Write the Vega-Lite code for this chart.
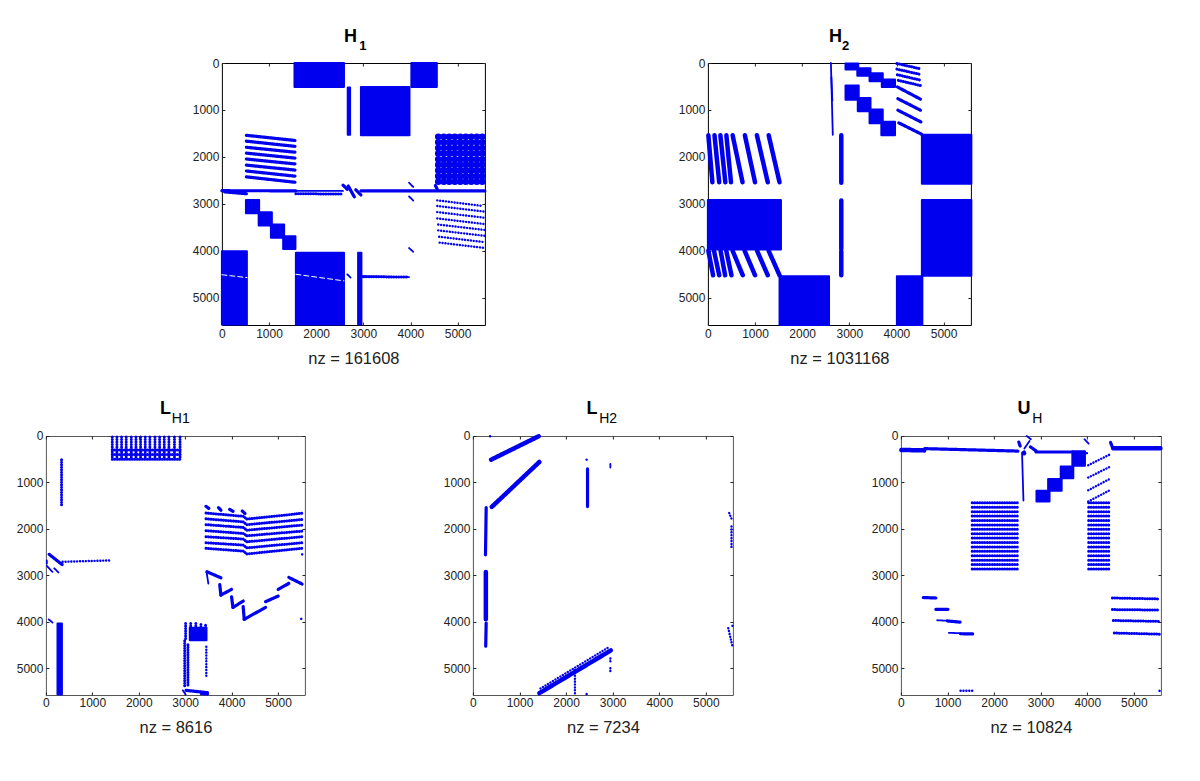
{
"$schema":"https://vega.github.io/schema/vega-lite/v6.json",
"padding":{"left":14.9,"top":27,"right":5,"bottom":5},
"background":"white",
"bounds":"flush",
"spacing":373,
"config":{
 "font":"Liberation Sans",
 "view":{"stroke":"black","strokeWidth":1},
 "axis":{"grid":false,"domain":false,"tickColor":"#222","tickSize":-3,"format":"d","labelFlush":false,"labelFont":"Liberation Sans","labelFontSize":12,"labelColor":"#222","titleFont":"Liberation Sans","titleFontSize":16.5,"titleFontWeight":"normal","titleColor":"#222","labelPadding":6,"titlePadding":11,"values":[0,1000,2000,3000,4000,5000]},
 "title":{"font":"Liberation Sans","fontSize":18,"fontWeight":"bold","color":"black","anchor":"middle","offset":-6}
},
"datasets":{
"h1":[
{"k":"block","x":1540,"x2":2590,"y":0,"y2":510},{"k":"block","x":4020,"x2":4560,"y":0,"y2":510},{"k":"block","x":2950,"x2":3980,"y":510,"y2":1540},{"k":"block","x":2670,"x2":2720,"y":520,"y2":1530},
{"k":"block","x":510,"x2":790,"y":2920,"y2":3200},{"k":"block","x":780,"x2":1060,"y":3180,"y2":3460},{"k":"block","x":1040,"x2":1320,"y":3440,"y2":3720},{"k":"block","x":1300,"x2":1560,"y":3690,"y2":3960},
{"k":"block","x":0,"x2":530,"y":4010,"y2":5570},{"k":"block","x":1570,"x2":2590,"y":4040,"y2":5570},{"k":"block","x":2890,"x2":2960,"y":4040,"y2":5570},
{"k":"gap","x":0,"x2":530,"y":4510,"y2":4570},{"k":"gap","x":1570,"x2":2590,"y":4500,"y2":4640},
{"k":"stipple","x":4590,"x2":5570,"y":1570,"y2":1570},{"k":"stipple","x":4590,"x2":5570,"y":1690,"y2":1690},{"k":"stipple","x":4590,"x2":5570,"y":1810,"y2":1810},{"k":"stipple","x":4590,"x2":5570,"y":1930,"y2":1930},{"k":"stipple","x":4590,"x2":5570,"y":2050,"y2":2050},{"k":"stipple","x":4590,"x2":5570,"y":2170,"y2":2170},{"k":"stipple","x":4590,"x2":5570,"y":2290,"y2":2290},{"k":"stipple","x":4590,"x2":5570,"y":2410,"y2":2410},{"k":"stipple","x":4590,"x2":5570,"y":2530,"y2":2530},
{"k":"line","x":520,"x2":1550,"y":1540,"y2":1650},{"k":"line","x":520,"x2":1550,"y":1665,"y2":1775},{"k":"line","x":520,"x2":1550,"y":1795,"y2":1900},{"k":"line","x":520,"x2":1550,"y":1920,"y2":2025},{"k":"line","x":520,"x2":1550,"y":2045,"y2":2150},{"k":"line","x":520,"x2":1550,"y":2175,"y2":2280},{"k":"line","x":520,"x2":1550,"y":2300,"y2":2410},{"k":"line","x":520,"x2":1550,"y":2425,"y2":2540},
{"k":"line","x":0,"x2":1570,"y":2720,"y2":2722},{"k":"thin","x":1570,"x2":2570,"y":2722,"y2":2724},{"k":"line","x":2950,"x2":5580,"y":2722,"y2":2725},{"k":"line","x":60,"x2":520,"y":2745,"y2":2785},{"k":"beads","x":1570,"x2":2560,"y":2785,"y2":2790},
{"k":"line","x":2570,"x2":2660,"y":2600,"y2":2690},{"k":"line","x":2680,"x2":2810,"y":2620,"y2":2850},{"k":"line","x":2840,"x2":2950,"y":2700,"y2":2810},{"k":"thin","x":3970,"x2":4060,"y":2550,"y2":2640},{"k":"thin","x":3970,"x2":4060,"y":2840,"y2":2930},{"k":"thin","x":3970,"x2":4060,"y":3940,"y2":4020},{"k":"line","x":4530,"x2":4570,"y":2610,"y2":2690},
{"k":"thin","x":2950,"x2":3970,"y":4540,"y2":4560},{"k":"beads","x":2960,"x2":3960,"y":4550,"y2":4560},{"k":"thin","x":2660,"x2":2730,"y":4500,"y2":4570},
{"k":"fine","x":4570,"x2":5540,"y":2925,"y2":3045},{"k":"fine","x":4570,"x2":5570,"y":3045,"y2":3165},{"k":"fine","x":4570,"x2":5570,"y":3175,"y2":3295},{"k":"fine","x":4570,"x2":5570,"y":3310,"y2":3430},{"k":"fine","x":4590,"x2":5570,"y":3440,"y2":3555},{"k":"fine","x":4590,"x2":5570,"y":3565,"y2":3680},{"k":"fine","x":4610,"x2":5570,"y":3700,"y2":3815},{"k":"fine","x":4620,"x2":5580,"y":3825,"y2":3940}
],
"h2":[
{"k":"block","x":2920,"x2":3190,"y":10,"y2":140},{"k":"block","x":3170,"x2":3450,"y":110,"y2":270},{"k":"block","x":3430,"x2":3710,"y":220,"y2":390},{"k":"block","x":3690,"x2":3970,"y":350,"y2":510},
{"k":"block","x":2920,"x2":3200,"y":480,"y2":780},{"k":"block","x":3180,"x2":3450,"y":745,"y2":1030},{"k":"block","x":3430,"x2":3710,"y":990,"y2":1285},{"k":"block","x":3680,"x2":3970,"y":1250,"y2":1540},
{"k":"block","x":4540,"x2":5590,"y":1530,"y2":2570},{"k":"block","x":4540,"x2":5590,"y":2920,"y2":4530},{"k":"block","x":0,"x2":1550,"y":2920,"y2":3970},{"k":"block","x":1520,"x2":2570,"y":4540,"y2":5580},{"k":"block","x":4010,"x2":4550,"y":4540,"y2":5580},
{"k":"band","x":2830,"x2":2830,"y":1540,"y2":2550},{"k":"band","x":2830,"x2":2830,"y":2930,"y2":3960},{"k":"band","x":2830,"x2":2830,"y":4010,"y2":4520},
{"k":"thin","x":2610,"x2":2650,"y":0,"y2":1530},{"k":"thin","x":2620,"x2":2640,"y":300,"y2":800},
{"k":"beads","x":4010,"x2":4490,"y":10,"y2":120},{"k":"beads","x":4010,"x2":4490,"y":130,"y2":240},{"k":"beads","x":4020,"x2":4490,"y":250,"y2":360},{"k":"beads","x":4040,"x2":4510,"y":370,"y2":480},
{"k":"line","x":4020,"x2":4510,"y":510,"y2":770},{"k":"line","x":4030,"x2":4510,"y":760,"y2":1005},{"k":"line","x":4030,"x2":4520,"y":1005,"y2":1255},{"k":"line","x":4050,"x2":4540,"y":1275,"y2":1520},
{"k":"band","x":10,"x2":95,"y":1540,"y2":2540},{"k":"band","x":140,"x2":240,"y":1540,"y2":2540},{"k":"band","x":265,"x2":370,"y":1540,"y2":2540},{"k":"band","x":392,"x2":490,"y":1540,"y2":2540},{"k":"band","x":525,"x2":735,"y":1540,"y2":2540},{"k":"band","x":785,"x2":1000,"y":1540,"y2":2540},{"k":"band","x":1040,"x2":1270,"y":1540,"y2":2540},{"k":"band","x":1290,"x2":1520,"y":1540,"y2":2540},
{"k":"band","x":10,"x2":110,"y":4000,"y2":4520},{"k":"band","x":130,"x2":240,"y":4000,"y2":4520},{"k":"band","x":270,"x2":365,"y":4000,"y2":4520},{"k":"band","x":390,"x2":500,"y":4000,"y2":4520},{"k":"band","x":525,"x2":740,"y":4000,"y2":4520},{"k":"band","x":780,"x2":1000,"y":4000,"y2":4520},{"k":"band","x":1045,"x2":1270,"y":4000,"y2":4520},{"k":"band","x":1290,"x2":1520,"y":4000,"y2":4520}
],
"l1":[
{"k":"beads","x":1430,"x2":1430,"y":20,"y2":500},{"k":"beads","x":1530,"x2":1530,"y":20,"y2":500},{"k":"beads","x":1630,"x2":1630,"y":20,"y2":500},{"k":"beads","x":1730,"x2":1730,"y":20,"y2":500},{"k":"beads","x":1840,"x2":1840,"y":20,"y2":500},{"k":"beads","x":1940,"x2":1940,"y":20,"y2":500},{"k":"beads","x":2040,"x2":2040,"y":20,"y2":500},{"k":"beads","x":2140,"x2":2140,"y":20,"y2":500},{"k":"beads","x":2240,"x2":2240,"y":20,"y2":500},{"k":"beads","x":2350,"x2":2350,"y":20,"y2":500},{"k":"beads","x":2450,"x2":2450,"y":20,"y2":500},{"k":"beads","x":2550,"x2":2550,"y":20,"y2":500},{"k":"beads","x":2650,"x2":2650,"y":20,"y2":500},{"k":"beads","x":2770,"x2":2770,"y":20,"y2":500},{"k":"beads","x":2890,"x2":2890,"y":20,"y2":500},
{"k":"beads","x":1430,"x2":2890,"y":300,"y2":300},{"k":"beads","x":1430,"x2":2890,"y":400,"y2":400},{"k":"beads","x":1430,"x2":2890,"y":500,"y2":500},
{"k":"beads","x":337,"x2":337,"y":510,"y2":1530},
{"k":"beads","x":3450,"x2":4250,"y":1660,"y2":1730},{"k":"beads","x":4250,"x2":4330,"y":1730,"y2":1790},{"k":"beads","x":4330,"x2":5520,"y":1790,"y2":1665},
{"k":"beads","x":3450,"x2":4250,"y":1785,"y2":1850},{"k":"beads","x":4250,"x2":4330,"y":1850,"y2":1910},{"k":"beads","x":4330,"x2":5520,"y":1910,"y2":1800},
{"k":"beads","x":3450,"x2":4250,"y":1910,"y2":1970},{"k":"beads","x":4250,"x2":4330,"y":1970,"y2":2030},{"k":"beads","x":4330,"x2":5520,"y":2030,"y2":1920},
{"k":"beads","x":3450,"x2":4250,"y":2040,"y2":2100},{"k":"beads","x":4250,"x2":4330,"y":2100,"y2":2150},{"k":"beads","x":4330,"x2":5520,"y":2150,"y2":2050},
{"k":"beads","x":3450,"x2":4250,"y":2170,"y2":2220},{"k":"beads","x":4250,"x2":4330,"y":2220,"y2":2280},{"k":"beads","x":4330,"x2":5520,"y":2280,"y2":2170},
{"k":"beads","x":3450,"x2":4250,"y":2300,"y2":2350},{"k":"beads","x":4250,"x2":4330,"y":2350,"y2":2410},{"k":"beads","x":4330,"x2":5520,"y":2410,"y2":2300},
{"k":"beads","x":3450,"x2":4250,"y":2420,"y2":2480},{"k":"beads","x":4250,"x2":4330,"y":2480,"y2":2540},{"k":"beads","x":4330,"x2":5520,"y":2540,"y2":2420},
{"k":"line","x":3450,"x2":3510,"y":1515,"y2":1560},{"k":"line","x":3720,"x2":3770,"y":1545,"y2":1600},{"k":"line","x":3960,"x2":4030,"y":1580,"y2":1625},{"k":"line","x":4230,"x2":4290,"y":1615,"y2":1670},
{"k":"fine","x":5520,"x2":5530,"y":2550,"y2":2560},
{"k":"fine","x":360,"x2":1400,"y":2710,"y2":2680},
{"k":"line","x":70,"x2":350,"y":2550,"y2":2770},{"k":"thin","x":20,"x2":20,"y":2680,"y2":2750},{"k":"thin","x":20,"x2":140,"y":2800,"y2":2925},{"k":"thin","x":180,"x2":270,"y":2850,"y2":2940},
{"k":"line","x":3470,"x2":3770,"y":2925,"y2":3055},{"k":"thin","x":3460,"x2":3500,"y":2925,"y2":3180},{"k":"line","x":3745,"x2":3770,"y":3200,"y2":3427},{"k":"line","x":3770,"x2":4000,"y":3427,"y2":3305},{"k":"line","x":4000,"x2":4030,"y":3463,"y2":3693},{"k":"line","x":4030,"x2":4252,"y":3693,"y2":3556},{"k":"line","x":4250,"x2":4273,"y":3678,"y2":3950},{"k":"line","x":4273,"x2":4732,"y":3950,"y2":3693},{"k":"line","x":4732,"x2":5005,"y":3570,"y2":3449},{"k":"line","x":5005,"x2":5234,"y":3305,"y2":3176},{"k":"line","x":5234,"x2":5520,"y":3047,"y2":3190},
{"k":"fine","x":5500,"x2":5520,"y":3940,"y2":3960},{"k":"thin","x":60,"x2":143,"y":3950,"y2":4020},
{"k":"block","x":250,"x2":345,"y":4040,"y2":5570},
{"k":"beads","x":3010,"x2":3010,"y":4040,"y2":4400},{"k":"beads","x":3120,"x2":3120,"y":4040,"y2":4400},{"k":"beads","x":3230,"x2":3230,"y":4040,"y2":4400},{"k":"beads","x":3340,"x2":3340,"y":4060,"y2":4400},{"k":"beads","x":3440,"x2":3440,"y":4080,"y2":4400},{"k":"block","x":3100,"x2":3460,"y":4130,"y2":4400},
{"k":"beads","x":2990,"x2":2990,"y":4410,"y2":5400},{"k":"beads","x":3060,"x2":3060,"y":4500,"y2":5400},{"k":"fine","x":3456,"x2":3456,"y":4540,"y2":5220},
{"k":"line","x":3020,"x2":3480,"y":5480,"y2":5530},{"k":"thin","x":2950,"x2":3010,"y":5480,"y2":5570},{"k":"line","x":3350,"x2":3480,"y":5550,"y2":5560}
],
"l2":[
{"k":"fine","x":370,"x2":380,"y":5,"y2":30},
{"k":"band","x":392,"x2":1412,"y":510,"y2":5},{"k":"band","x":406,"x2":1426,"y":1527,"y2":560},
{"k":"line","x":285,"x2":270,"y":1540,"y2":2560},{"k":"band","x":278,"x2":278,"y":2930,"y2":3950},{"k":"line","x":285,"x2":275,"y":4030,"y2":4530},
{"k":"line","x":2460,"x2":2460,"y":710,"y2":1520},{"k":"fine","x":2440,"x2":2445,"y":510,"y2":515},{"k":"thin","x":2950,"x2":2950,"y":600,"y2":680},
{"k":"fine","x":5500,"x2":5560,"y":1660,"y2":1800},{"k":"fine","x":5550,"x2":5550,"y":1950,"y2":2420},{"k":"fine","x":5480,"x2":5570,"y":4140,"y2":4530},{"k":"fine","x":5570,"x2":5575,"y":4090,"y2":4095},
{"k":"band","x":1426,"x2":2960,"y":5540,"y2":4620},{"k":"fine","x":1450,"x2":2900,"y":5440,"y2":4560},
{"k":"fine","x":2190,"x2":2190,"y":5040,"y2":5570},{"k":"fine","x":2950,"x2":2950,"y":4790,"y2":4860},{"k":"fine","x":2950,"x2":2950,"y":5000,"y2":5080},{"k":"fine","x":2440,"x2":2450,"y":5560,"y2":5565}
],
"u":[
{"k":"block","x":3680,"x2":3950,"y":330,"y2":640},{"k":"block","x":3430,"x2":3700,"y":655,"y2":910},{"k":"block","x":3160,"x2":3450,"y":925,"y2":1180},{"k":"block","x":2910,"x2":3190,"y":1180,"y2":1410},
{"k":"band","x":10,"x2":500,"y":300,"y2":310},{"k":"line","x":510,"x2":2510,"y":272,"y2":325},
{"k":"thin","x":2630,"x2":2600,"y":1390,"y2":360},{"k":"band","x":2640,"x2":2645,"y":360,"y2":370},
{"k":"line","x":2530,"x2":2560,"y":130,"y2":215},{"k":"thin","x":2650,"x2":2760,"y":270,"y2":110},{"k":"thin","x":2700,"x2":2790,"y":0,"y2":70},
{"k":"line","x":2780,"x2":2900,"y":235,"y2":320},{"k":"line","x":2900,"x2":3690,"y":345,"y2":345},
{"k":"thin","x":3940,"x2":4030,"y":70,"y2":165},{"k":"fine","x":3990,"x2":4050,"y":370,"y2":360},
{"k":"fine","x":4020,"x2":4510,"y":630,"y2":385},{"k":"fine","x":4020,"x2":4510,"y":896,"y2":650},{"k":"fine","x":4020,"x2":4490,"y":1170,"y2":920},{"k":"fine","x":4020,"x2":4480,"y":1412,"y2":1170},
{"k":"line","x":4500,"x2":4550,"y":140,"y2":270},{"k":"band","x":4560,"x2":5570,"y":265,"y2":265},
{"k":"beads","x":1530,"x2":2540,"y":1440,"y2":1440},{"k":"beads","x":1530,"x2":2540,"y":1535,"y2":1535},{"k":"beads","x":1530,"x2":2540,"y":1630,"y2":1630},{"k":"beads","x":1530,"x2":2540,"y":1725,"y2":1725},{"k":"beads","x":1530,"x2":2540,"y":1820,"y2":1820},{"k":"beads","x":1530,"x2":2540,"y":1915,"y2":1915},{"k":"beads","x":1530,"x2":2540,"y":2010,"y2":2010},{"k":"beads","x":1530,"x2":2540,"y":2105,"y2":2105},{"k":"beads","x":1530,"x2":2540,"y":2200,"y2":2200},{"k":"beads","x":1530,"x2":2540,"y":2295,"y2":2295},{"k":"beads","x":1530,"x2":2540,"y":2390,"y2":2390},{"k":"beads","x":1530,"x2":2540,"y":2485,"y2":2485},{"k":"beads","x":1530,"x2":2540,"y":2580,"y2":2580},{"k":"beads","x":1530,"x2":2540,"y":2675,"y2":2675},{"k":"beads","x":1530,"x2":2540,"y":2770,"y2":2770},{"k":"beads","x":1530,"x2":2540,"y":2865,"y2":2865},
{"k":"beads","x":4030,"x2":4510,"y":1440,"y2":1440},{"k":"beads","x":4030,"x2":4510,"y":1535,"y2":1535},{"k":"beads","x":4030,"x2":4510,"y":1630,"y2":1630},{"k":"beads","x":4030,"x2":4510,"y":1725,"y2":1725},{"k":"beads","x":4030,"x2":4510,"y":1820,"y2":1820},{"k":"beads","x":4030,"x2":4510,"y":1915,"y2":1915},{"k":"beads","x":4030,"x2":4510,"y":2010,"y2":2010},{"k":"beads","x":4030,"x2":4510,"y":2105,"y2":2105},{"k":"beads","x":4030,"x2":4510,"y":2200,"y2":2200},{"k":"beads","x":4030,"x2":4510,"y":2295,"y2":2295},{"k":"beads","x":4030,"x2":4510,"y":2390,"y2":2390},{"k":"beads","x":4030,"x2":4510,"y":2485,"y2":2485},{"k":"beads","x":4030,"x2":4510,"y":2580,"y2":2580},{"k":"beads","x":4030,"x2":4510,"y":2675,"y2":2675},{"k":"beads","x":4030,"x2":4510,"y":2770,"y2":2770},{"k":"beads","x":4030,"x2":4510,"y":2865,"y2":2865},
{"k":"line","x":480,"x2":750,"y":3480,"y2":3490},{"k":"line","x":750,"x2":1010,"y":3735,"y2":3735},{"k":"thin","x":780,"x2":1000,"y":3970,"y2":3980},{"k":"line","x":1000,"x2":1270,"y":3985,"y2":4010},{"k":"thin","x":1030,"x2":1280,"y":4240,"y2":4250},{"k":"line","x":1280,"x2":1540,"y":4260,"y2":4265},
{"k":"fine","x":1280,"x2":1540,"y":5490,"y2":5490},{"k":"fine","x":5550,"x2":5560,"y":5490,"y2":5495},
{"k":"beads","x":4540,"x2":5530,"y":3490,"y2":3510},{"k":"beads","x":4540,"x2":5550,"y":3740,"y2":3750},{"k":"beads","x":4560,"x2":5570,"y":3975,"y2":3995},{"k":"beads","x":4580,"x2":5570,"y":4245,"y2":4270}
]
},
"vconcat":[
{"bounds":"flush","spacing":10,"hconcat":[
 {"width":166,"height":10,"view":{"stroke":null},"data":{"values":[{}]},"mark":{"type":"rule","opacity":0},"encoding":{}},
 {"bounds":"flush","spacing":223,"hconcat":[
  {"width":263,"height":262,"title":{"text":"H","dx":-3},"data":{"name":"h1"},"resolve":{"axis":{"x":"independent","y":"independent"}},"layer":[
   {"transform":[{"filter":"datum.k==='block'"}],"mark":{"type":"rect","color":"#0000ee","stroke":"#0000ee","strokeWidth":2,"strokeJoin":"round"},"encoding":{"x":{"field":"x","type":"quantitative","scale":{"domain":[0,5580],"nice":false},"axis":{"title":"nz = 161608"}},"x2":{"field":"x2"},"y":{"field":"y","type":"quantitative","scale":{"domain":[0,5580],"reverse":true,"nice":false},"axis":{"title":null}},"y2":{"field":"y2"}}},
   {"transform":[{"filter":"datum.k!=='block'"}],"mark":{"type":"rule","strokeCap":"round"},"encoding":{"x":{"field":"x","type":"quantitative","axis":{"orient":"top","labels":false,"title":null}},"x2":{"field":"x2"},"y":{"field":"y","type":"quantitative","axis":{"orient":"right","labels":false,"title":null}},"y2":{"field":"y2"},"color":{"field":"k","scale":{"domain":["band","line","thin","beads","fine","stipple","gap"],"range":["#0000ee","#0000ee","#0000ee","#0000ee","#0000ee","#0000ee","#ffffff"]},"legend":null},"strokeWidth":{"field":"k","type":"ordinal","scale":{"type":"ordinal","domain":["band","line","thin","beads","fine","stipple","gap"],"range":[4.5,3.2,1.8,3,2.4,6.6,1]},"legend":null},"strokeDash":{"field":"k","scale":{"domain":["band","line","thin","beads","fine","stipple","gap"],"range":[[1,0],[1,0],[1,0],[0.1,2.4],[0.1,2.8],[0.1,5.4],[5,3]]},"legend":null}}},
   {"data":{"values":[{}]},"mark":{"type":"text","text":"1","align":"left","baseline":"alphabetic","fontSize":13,"font":"Liberation Sans","fontWeight":"bold","color":"black"},"encoding":{"x":{"datum":2913,"type":"quantitative","axis":null},"y":{"datum":-277,"type":"quantitative","axis":null}}}
  ]},
  {"width":263,"height":262,"title":{"text":"H","dx":-4},"data":{"name":"h2"},"resolve":{"axis":{"x":"independent","y":"independent"}},"layer":[
   {"transform":[{"filter":"datum.k==='block'"}],"mark":{"type":"rect","color":"#0000ee","stroke":"#0000ee","strokeWidth":2,"strokeJoin":"round"},"encoding":{"x":{"field":"x","type":"quantitative","scale":{"domain":[0,5580],"nice":false},"axis":{"title":"nz = 1031168"}},"x2":{"field":"x2"},"y":{"field":"y","type":"quantitative","scale":{"domain":[0,5580],"reverse":true,"nice":false},"axis":{"title":null}},"y2":{"field":"y2"}}},
   {"transform":[{"filter":"datum.k!=='block'"}],"mark":{"type":"rule","strokeCap":"round"},"encoding":{"x":{"field":"x","type":"quantitative","axis":{"orient":"top","labels":false,"title":null}},"x2":{"field":"x2"},"y":{"field":"y","type":"quantitative","axis":{"orient":"right","labels":false,"title":null}},"y2":{"field":"y2"},"color":{"field":"k","scale":{"domain":["band","line","thin","beads","fine","stipple","gap"],"range":["#0000ee","#0000ee","#0000ee","#0000ee","#0000ee","#0000ee","#ffffff"]},"legend":null},"strokeWidth":{"field":"k","type":"ordinal","scale":{"type":"ordinal","domain":["band","line","thin","beads","fine","stipple","gap"],"range":[4.5,3.2,1.8,3,2.4,6.6,1]},"legend":null},"strokeDash":{"field":"k","scale":{"domain":["band","line","thin","beads","fine","stipple","gap"],"range":[[1,0],[1,0],[1,0],[0.1,2.4],[0.1,2.8],[0.1,5.4],[5,3]]},"legend":null}}},
   {"data":{"values":[{}]},"mark":{"type":"text","text":"2","align":"left","baseline":"alphabetic","fontSize":13,"font":"Liberation Sans","fontWeight":"bold","color":"black"},"encoding":{"x":{"datum":2843,"type":"quantitative","axis":null},"y":{"datum":-277,"type":"quantitative","axis":null}}}
  ]}
 ]}
]},
{"bounds":"flush","spacing":168,"hconcat":[
  {"width":259,"height":259,"view":{"stroke":"#555"},"title":{"text":"L","dx":-10},"data":{"name":"l1"},"resolve":{"axis":{"x":"independent","y":"independent"}},"layer":[
   {"transform":[{"filter":"datum.k==='block'"}],"mark":{"type":"rect","color":"#0000ee","stroke":"#0000ee","strokeWidth":2,"strokeJoin":"round"},"encoding":{"x":{"field":"x","type":"quantitative","scale":{"domain":[0,5580],"nice":false},"axis":{"title":"nz = 8616"}},"x2":{"field":"x2"},"y":{"field":"y","type":"quantitative","scale":{"domain":[0,5580],"reverse":true,"nice":false},"axis":{"title":null}},"y2":{"field":"y2"}}},
   {"transform":[{"filter":"datum.k!=='block'"}],"mark":{"type":"rule","strokeCap":"round"},"encoding":{"x":{"field":"x","type":"quantitative","axis":{"orient":"top","labels":false,"title":null}},"x2":{"field":"x2"},"y":{"field":"y","type":"quantitative","axis":{"orient":"right","labels":false,"title":null}},"y2":{"field":"y2"},"color":{"field":"k","scale":{"domain":["band","line","thin","beads","fine","stipple","gap"],"range":["#0000ee","#0000ee","#0000ee","#0000ee","#0000ee","#0000ee","#ffffff"]},"legend":null},"strokeWidth":{"field":"k","type":"ordinal","scale":{"type":"ordinal","domain":["band","line","thin","beads","fine","stipple","gap"],"range":[4.5,3.2,1.8,3,2.4,6.6,1]},"legend":null},"strokeDash":{"field":"k","scale":{"domain":["band","line","thin","beads","fine","stipple","gap"],"range":[[1,0],[1,0],[1,0],[0.1,2.4],[0.1,2.8],[0.1,5.4],[5,3]]},"legend":null}}},
   {"data":{"values":[{}]},"mark":{"type":"text","text":"H1","align":"left","baseline":"alphabetic","fontSize":14,"font":"Liberation Sans","color":"black"},"encoding":{"x":{"datum":2714,"type":"quantitative","axis":null},"y":{"datum":-280,"type":"quantitative","axis":null}}}
  ]},
  {"width":260,"height":259,"view":{"stroke":"#555"},"title":{"text":"L","dx":-11},"data":{"name":"l2"},"resolve":{"axis":{"x":"independent","y":"independent"}},"layer":[
   {"transform":[{"filter":"datum.k==='block'"}],"mark":{"type":"rect","color":"#0000ee","stroke":"#0000ee","strokeWidth":2,"strokeJoin":"round"},"encoding":{"x":{"field":"x","type":"quantitative","scale":{"domain":[0,5580],"nice":false},"axis":{"title":"nz = 7234"}},"x2":{"field":"x2"},"y":{"field":"y","type":"quantitative","scale":{"domain":[0,5580],"reverse":true,"nice":false},"axis":{"title":null}},"y2":{"field":"y2"}}},
   {"transform":[{"filter":"datum.k!=='block'"}],"mark":{"type":"rule","strokeCap":"round"},"encoding":{"x":{"field":"x","type":"quantitative","axis":{"orient":"top","labels":false,"title":null}},"x2":{"field":"x2"},"y":{"field":"y","type":"quantitative","axis":{"orient":"right","labels":false,"title":null}},"y2":{"field":"y2"},"color":{"field":"k","scale":{"domain":["band","line","thin","beads","fine","stipple","gap"],"range":["#0000ee","#0000ee","#0000ee","#0000ee","#0000ee","#0000ee","#ffffff"]},"legend":null},"strokeWidth":{"field":"k","type":"ordinal","scale":{"type":"ordinal","domain":["band","line","thin","beads","fine","stipple","gap"],"range":[4.5,3.2,1.8,3,2.4,6.6,1]},"legend":null},"strokeDash":{"field":"k","scale":{"domain":["band","line","thin","beads","fine","stipple","gap"],"range":[[1,0],[1,0],[1,0],[0.1,2.4],[0.1,2.8],[0.1,5.4],[5,3]]},"legend":null}}},
   {"data":{"values":[{}]},"mark":{"type":"text","text":"H2","align":"left","baseline":"alphabetic","fontSize":14,"font":"Liberation Sans","color":"black"},"encoding":{"x":{"datum":2712,"type":"quantitative","axis":null},"y":{"datum":-280,"type":"quantitative","axis":null}}}
  ]},
  {"width":260,"height":259,"view":{"stroke":"#555"},"title":{"text":"U","dx":-7},"data":{"name":"u"},"resolve":{"axis":{"x":"independent","y":"independent"}},"layer":[
   {"transform":[{"filter":"datum.k==='block'"}],"mark":{"type":"rect","color":"#0000ee","stroke":"#0000ee","strokeWidth":2,"strokeJoin":"round"},"encoding":{"x":{"field":"x","type":"quantitative","scale":{"domain":[0,5580],"nice":false},"axis":{"title":"nz = 10824"}},"x2":{"field":"x2"},"y":{"field":"y","type":"quantitative","scale":{"domain":[0,5580],"reverse":true,"nice":false},"axis":{"title":null}},"y2":{"field":"y2"}}},
   {"transform":[{"filter":"datum.k!=='block'"}],"mark":{"type":"rule","strokeCap":"round"},"encoding":{"x":{"field":"x","type":"quantitative","axis":{"orient":"top","labels":false,"title":null}},"x2":{"field":"x2"},"y":{"field":"y","type":"quantitative","axis":{"orient":"right","labels":false,"title":null}},"y2":{"field":"y2"},"color":{"field":"k","scale":{"domain":["band","line","thin","beads","fine","stipple","gap"],"range":["#0000ee","#0000ee","#0000ee","#0000ee","#0000ee","#0000ee","#ffffff"]},"legend":null},"strokeWidth":{"field":"k","type":"ordinal","scale":{"type":"ordinal","domain":["band","line","thin","beads","fine","stipple","gap"],"range":[4.5,3.2,1.8,3,2.4,6.6,1]},"legend":null},"strokeDash":{"field":"k","scale":{"domain":["band","line","thin","beads","fine","stipple","gap"],"range":[[1,0],[1,0],[1,0],[0.1,2.4],[0.1,2.8],[0.1,5.4],[5,3]]},"legend":null}}},
   {"data":{"values":[{}]},"mark":{"type":"text","text":"H","align":"left","baseline":"alphabetic","fontSize":14,"font":"Liberation Sans","color":"black"},"encoding":{"x":{"datum":2820,"type":"quantitative","axis":null},"y":{"datum":-280,"type":"quantitative","axis":null}}}
  ]}
]}
]
}
